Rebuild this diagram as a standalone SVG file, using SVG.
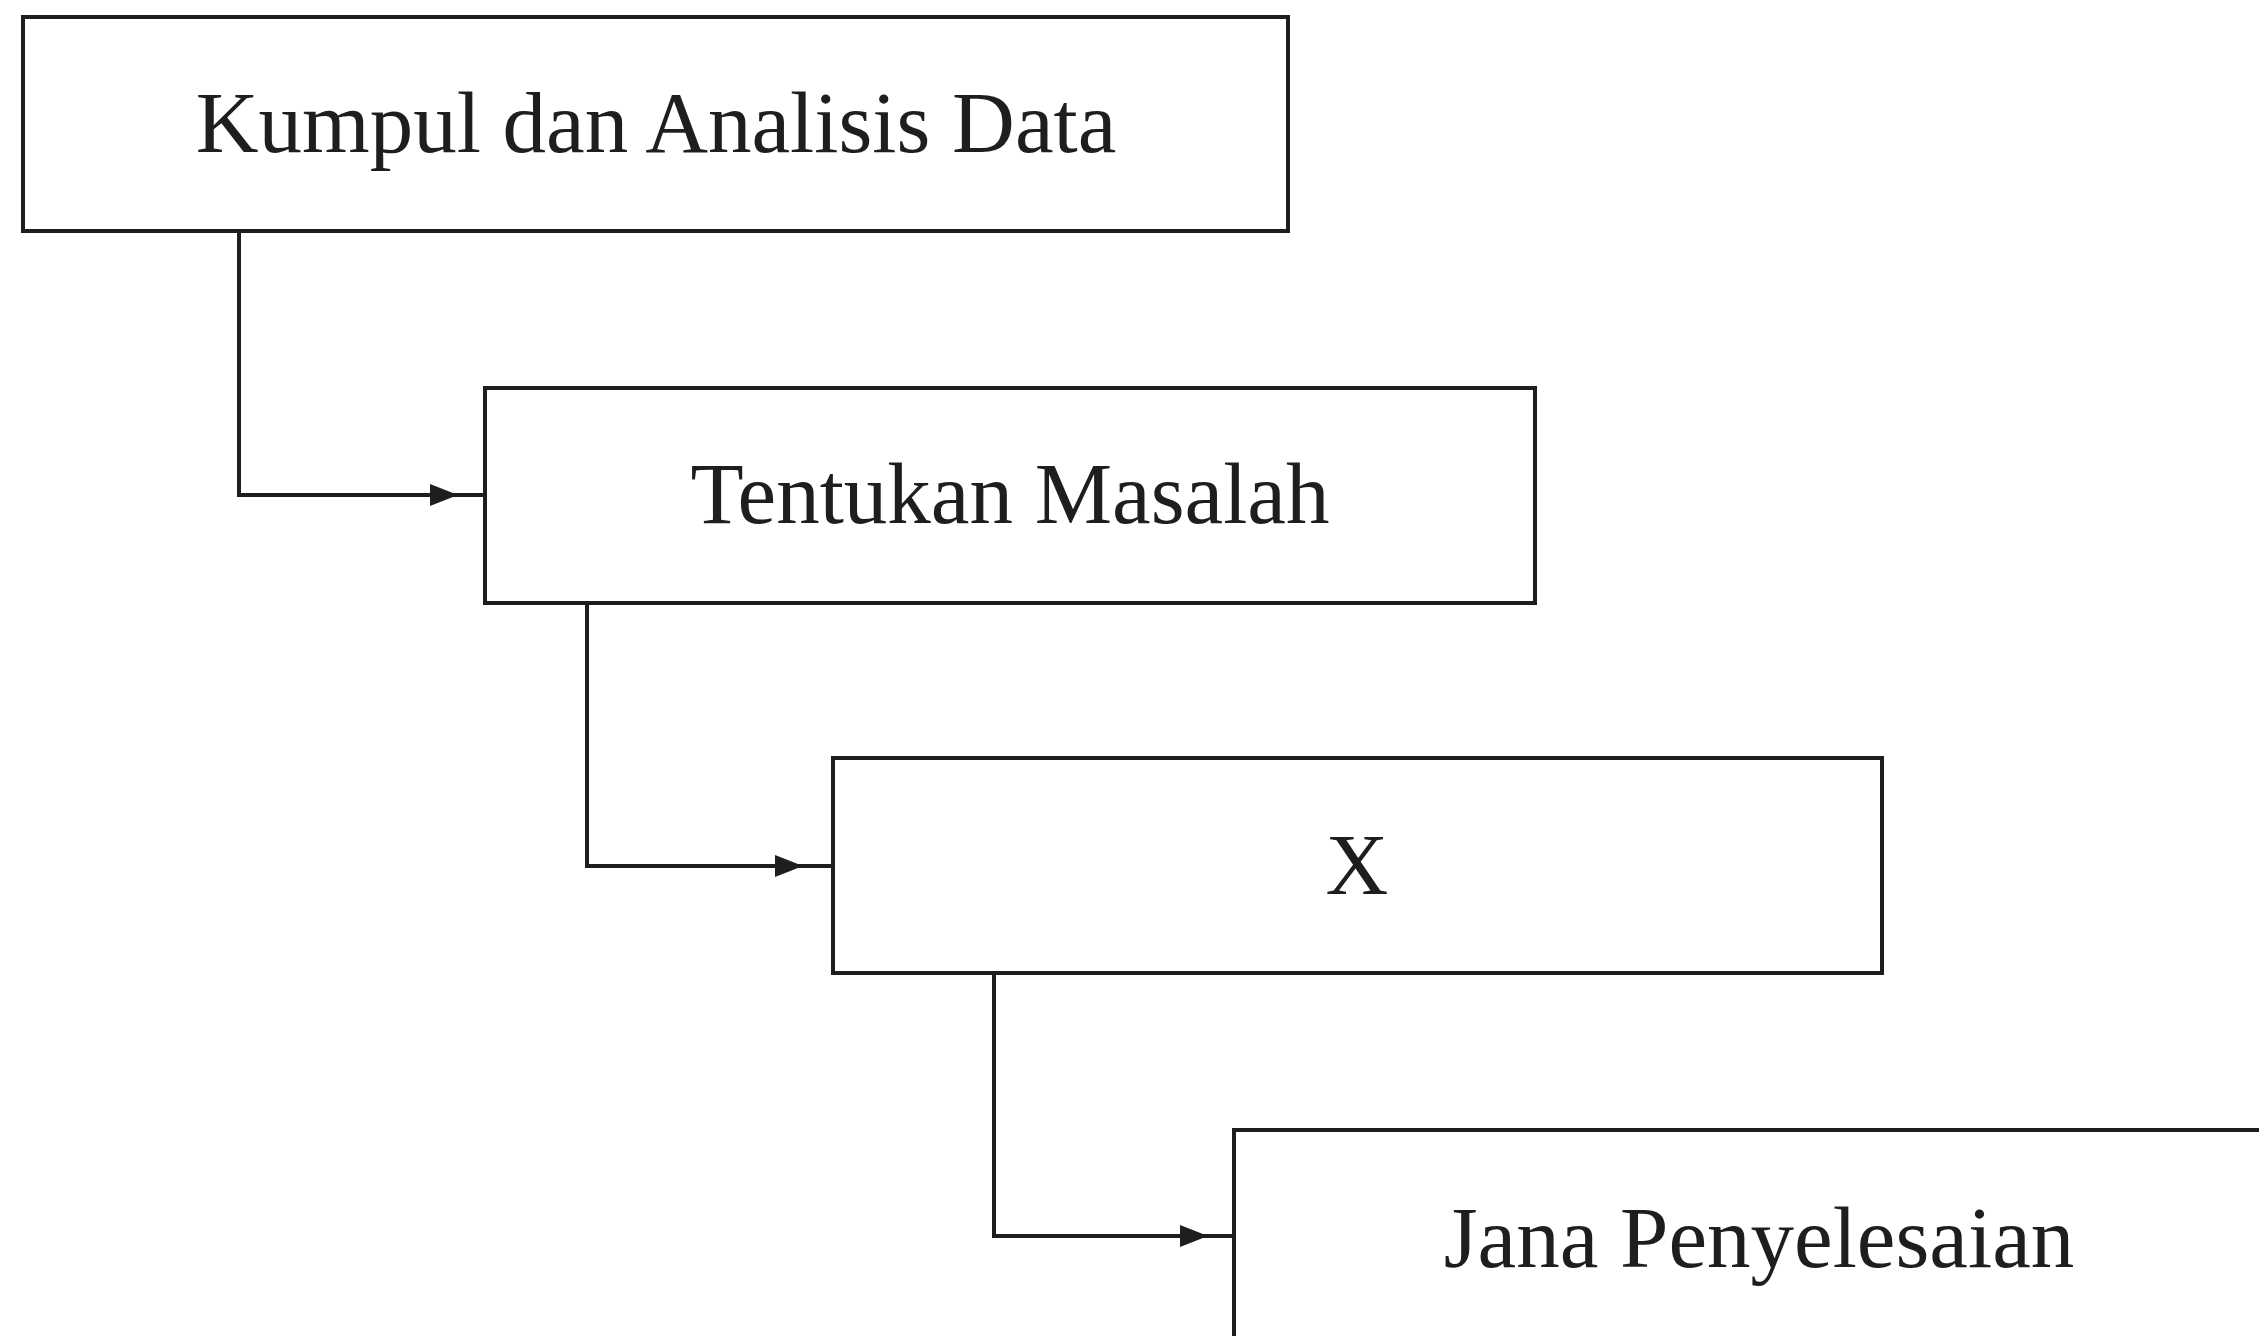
<svg xmlns="http://www.w3.org/2000/svg" width="2259" height="1336" viewBox="0 0 2259 1336">
  <style>
    .box { fill: #ffffff; stroke: #1e1e1e; stroke-width: 4; }
    .label { font-family: "Liberation Serif", "Times New Roman", serif; font-size: 87px; fill: #1e1e1e; text-anchor: middle; }
    .link { fill: none; stroke: #1e1e1e; stroke-width: 4; }
  </style>
  <defs>
    <marker id="arrow" markerUnits="userSpaceOnUse" markerWidth="30" markerHeight="24" refX="28" refY="12" orient="auto">
      <path d="M0,1 L28,12 L0,23 Z" fill="#1e1e1e"/>
    </marker>
  </defs>
  <rect width="2259" height="1336" fill="#ffffff"/>

  <g id="connectors">
    <path class="link" d="M239,231 V495 H458" marker-end="url(#arrow)"/>
    <path class="link" d="M456,495 H485"/>
    <path class="link" d="M587,603 V866 H803" marker-end="url(#arrow)"/>
    <path class="link" d="M801,866 H833"/>
    <path class="link" d="M994,973 V1236 H1208" marker-end="url(#arrow)"/>
    <path class="link" d="M1206,1236 H1234"/>
  </g>

  <g id="node-kumpul">
    <rect class="box" x="23" y="17" width="1265" height="214"/>
    <text class="label" x="656" y="152">Kumpul dan Analisis Data</text>
  </g>

  <g id="node-tentukan">
    <rect class="box" x="485" y="388" width="1050" height="215"/>
    <text class="label" x="1010" y="523">Tentukan Masalah</text>
  </g>

  <g id="node-x">
    <rect class="box" x="833" y="758" width="1049" height="215"/>
    <text class="label" x="1357" y="894">X</text>
  </g>

  <g id="node-jana">
    <rect class="box" x="1234" y="1130" width="1050" height="215"/>
    <text class="label" x="1759" y="1267">Jana Penyelesaian</text>
  </g>
</svg>
